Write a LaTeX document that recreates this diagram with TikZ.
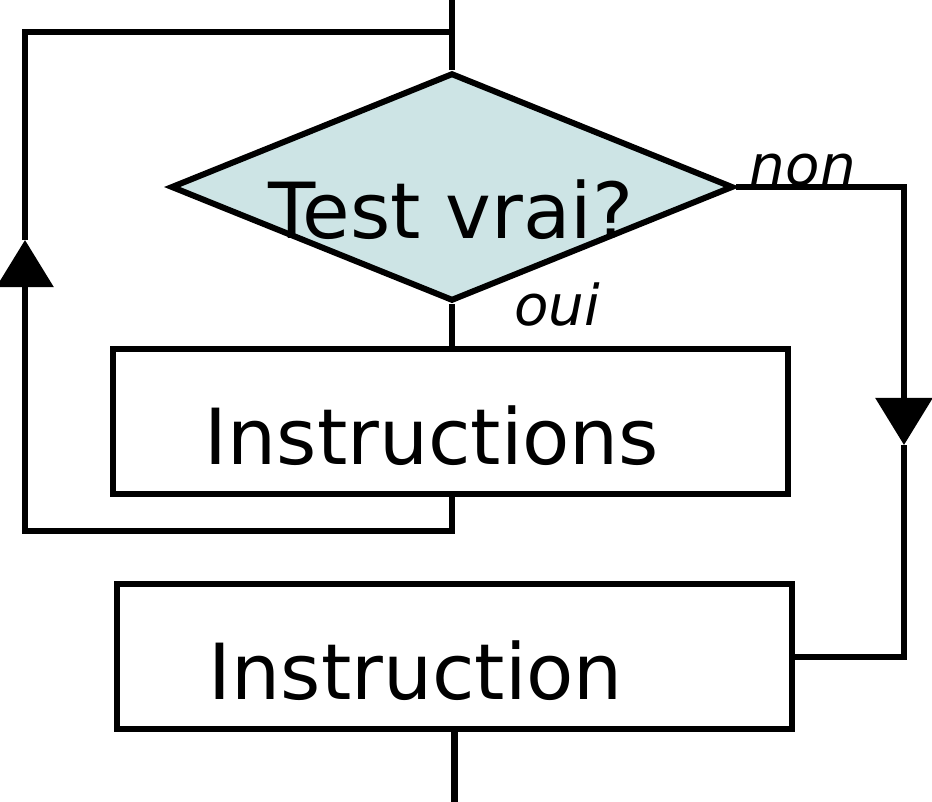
\documentclass[tikz,border=0pt]{standalone}
\usepackage{fontspec}
\setmainfont{DejaVu Sans}
\usetikzlibrary{shapes.geometric,arrows.meta}
\definecolor{testfill}{RGB}{205,228,229}
\tikzset{
    decision/.style={
        shape=diamond,
        draw=black,
        fill=testfill,
        minimum width=5.62cm,
        minimum height=2.28cm,
        inner sep=0pt
    },
    instrbox/.style={
        shape=rectangle,
        draw=black,
        font=\fontsize{22pt}{26pt}\selectfont,
        text width=4.91cm,
        align=left,
        inner xsep=0.92cm,
        inner ysep=0pt,
        text height=0.85cm,
        text depth=0pt,
        minimum height=1.45cm
    },
    bigtext/.style={
        font=\fontsize{22pt}{26pt}\selectfont,
    },
    answer/.style={
        font=\fontsize{16pt}{19pt}\selectfont\itshape,
        inner sep=0pt
    },
    flow/.style={
        -{Triangle[width=0.56cm,length=0.47cm]},
    }
}
\begin{document}
\begin{tikzpicture}[
    x=0.01cm,
    y=-0.01cm,
    line width=0.06cm
    ]
    \useasboundingbox (0,0) rectangle (932,802);

    \node[decision] (test) at (452,187) {};
    \node[bigtext, anchor=base] (testtxt) at (451,238) {Test vrai?};
    \node[instrbox] (instrs) at (450.5,421.5) {Instructions};
    \node[instrbox] (instr) at (454.5,656.5) {Instruction};
    \node[answer, anchor=base west] (non) at (747,185) {non};
    \node[answer, anchor=base west] (oui) at (511,325) {oui};

    \coordinate (entry) at (452,0);
    \coordinate (join) at (452,32);
    \coordinate (up) at (25,240);
    \coordinate (down) at (904,445);
    \coordinate (exit) at (454.5,802);

    \draw (entry) -- (test.north);
    \draw (test.south) -- (test.south |- instrs.north);
    \draw[flow] (test.south |- instrs.south) -- ++(0,34) -| (up);
    \draw (up) |- (join);
    \draw[flow] (test.east) -| (down);
    \draw (down) |- (instr.east);
    \draw (instr.south) -- (exit);
  \end{tikzpicture}
\end{document}
